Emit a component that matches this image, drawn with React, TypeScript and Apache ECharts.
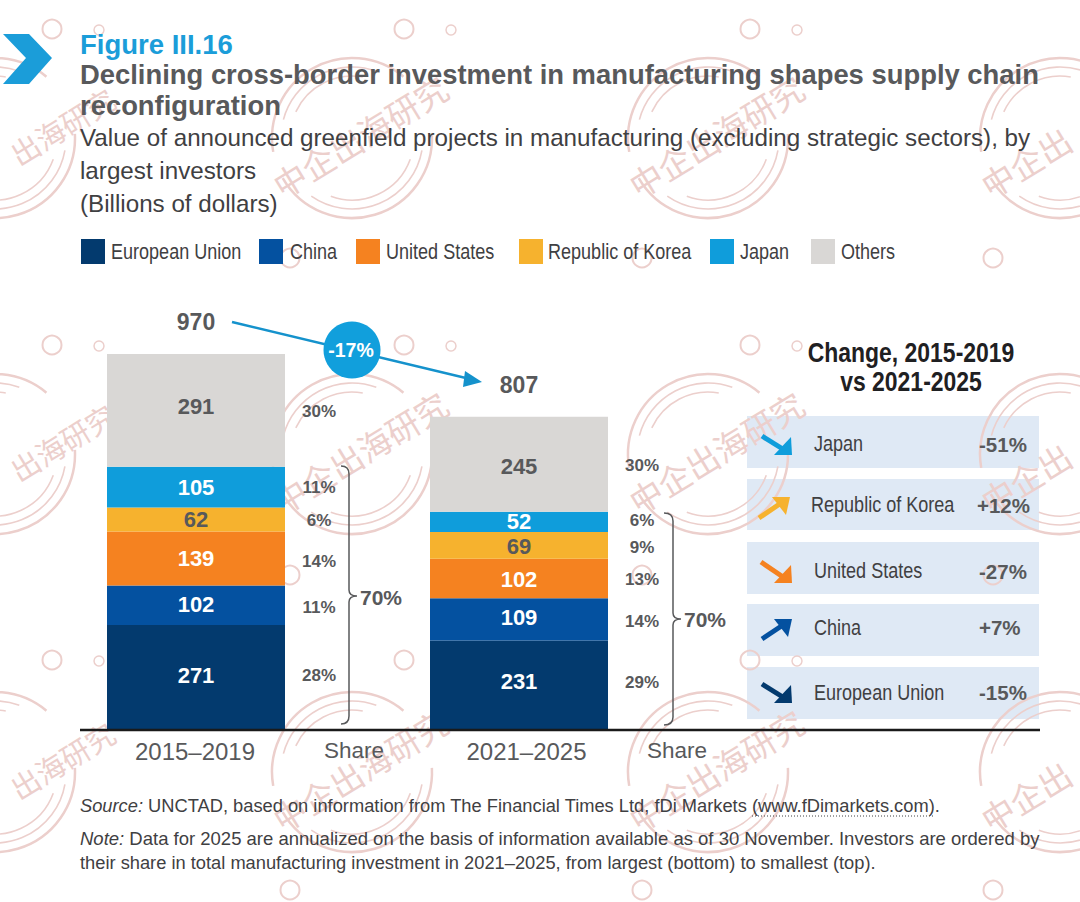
import React, { useEffect, useRef } from "react";
import * as echarts from "echarts";

const categories = ["2015–2019", "Share", "2021–2025", "Share"];
const seriesNames = ["European Union", "China", "United States", "Republic of Korea", "Japan", "Others"];
const euValues = [271, null, 231, null];
const chinaValues = [102, null, 109, null];
const usValues = [139, null, 102, null];
const koreaValues = [62, null, 69, null];
const japanValues = [105, null, 52, null];
const othersValues = [291, null, 245, null];
const totals = [970, null, 807, null];
const sharesFirst = ["28%", "11%", "14%", "6%", "11%", "30%"];
const sharesSecond = ["29%", "14%", "13%", "9%", "6%", "30%"];
const changeNames = ["Japan", "Republic of Korea", "United States", "China", "European Union"];
const changeValues = ["-51%", "+12%", "-27%", "+7%", "-15%"];

const allValues = [euValues, chinaValues, usValues, koreaValues, japanValues, othersValues];
const colors = ["#033a6e", "#0451a0", "#f58220", "#f6b22e", "#0f9ddb", "#d9d7d5"];
const labelColors = ["#fff", "#fff", "#fff", "#58595b", "#fff", "#58595b"];
const GRAY = "#58595b";
const TEXT = "#3f4042";
const SANS = '"Liberation Sans", Arial, sans-serif';
const NARROW_SCALE = 0.82;

// fine vertical nudges of the value labels, by series then column
const barNudge = [[-2, -4], [-1, -2], [0, 1], [0, 1], [0, 0], [-4, 2]];
const shareNudgeA = [-2, 2, 3, 1, 0, 1];
const shareNudgeB = [-3, 2, 1, 2, -1, 1];

echarts.graphic.registerShape("brace1", echarts.graphic.extendPath(
  "M341,466 Q349,466 349,474 L349,590 Q349,596 357,596 Q349,596 349,602 L349,716 Q349,724 341,724", {}));
echarts.graphic.registerShape("brace2", echarts.graphic.extendPath(
  "M664,513 Q673,513 673,521 L673,613 Q673,619 681,619 Q673,619 673,625 L673,717 Q673,725 664,725", {}));

function midpoints(col: number): number[] {
  let acc = 0;
  return allValues.map((vals) => {
    const v = vals[col] as number;
    const m = acc + v / 2;
    acc += v;
    return m;
  });
}

function narrow(text: string, x: number, y: number, fontSize: number, fill: string, opts: any = {}) {
  return {
    type: "text", z: 10, x, y, scaleX: NARROW_SCALE, scaleY: 1,
    style: {
      text, x: 0, y: 0, fill, fontSize, fontFamily: SANS, verticalAlign: "middle",
      align: opts.align || "left", fontWeight: opts.fontWeight || "normal",
    },
  };
}

function watermark(): any[] {
  const out: any[] = [];
  const ink = "#eccfcc";
  const xs = [-5, 352, 708, 1060];
  const ys = [138, 454, 772];
  const d = Math.PI / 180;
  const rings: [number, number, number, number][] = [
    [80, 2.5, 170, 310], [80, 2.5, -3, 150],
    [71, 1.6, 195, 290], [71, 1.6, 10, 125],
    [62, 1.6, 205, 280], [62, 1.6, 20, 110],
  ];
  const dirX = Math.cos(0.55);
  const dirY = -Math.sin(0.55);
  ys.forEach((cy) => xs.forEach((cx, col) => {
    for (const [r, w, a, b] of rings) {
      out.push({
        type: "arc", silent: true, z: 0,
        shape: { cx, cy, r, startAngle: a * d, endAngle: b * d, clockwise: true },
        style: { stroke: ink, lineWidth: w, fill: "none" },
      });
    }
    // stamps at the page's edges show only the part of the stamp text that fits
    const text = col === 0 ? "出海研究" : col === 3 ? "中企出" : "中企出海研究";
    const along = col === 0 ? 20 : col === 3 ? -49.5 : 0;
    out.push({
      type: "text", silent: true, z: 0,
      x: col === 0 ? 62 : cx + 8 + along * dirX, y: cy - 2 + along * dirY, rotation: 0.55,
      style: { text, x: 0, y: 0, fill: ink, fontSize: col === 0 ? 29 : 33, fontFamily: '"Noto Sans CJK SC"', align: "center", verticalAlign: "middle" },
    });
  }));
  const small: [number, number][] = [];
  [52, 404, 750].forEach((x) => [29, 345, 660].forEach((y) => small.push([x, y])));
  small.forEach(([x, y]) => {
    out.push({ type: "circle", silent: true, z: 0, shape: { cx: x, cy: y, r: 9.5 }, style: { stroke: ink, lineWidth: 2, fill: "none" } });
    out.push({ type: "circle", silent: true, z: 0, shape: { cx: x + 47, cy: y + 1, r: 5 }, style: { stroke: ink, lineWidth: 1.5, fill: "none" } });
  });
  [290, 642, 993].forEach((x) => [258, 575, 890].forEach((y) => {
    out.push({ type: "circle", silent: true, z: 0, shape: { cx: x, cy: y, r: 9.5 }, style: { stroke: ink, lineWidth: 2, fill: "none" } });
  }));
  return out;
}

function changePanel(): any[] {
  const out: any[] = [];
  const arrowColors = [colors[4], colors[3], colors[2], colors[1], colors[0]];
  // tail x, tail y, tip x, tip y
  const arrows = [
    [762, 436, 792, 455], [759, 518, 790, 497], [761, 562, 792, 583], [762, 639, 792, 619], [762, 684, 792, 703],
  ];
  const labelX = [814, 811, 814, 814, 814];
  const labelY = [443, 504, 570, 627, 692];
  const pctX = [979, 977, 979, 979, 979];
  const pctY = [444, 505, 571, 627, 692];
  arrows.forEach(([x0, y0, x1, y1], i) => {
    const sign = y1 > y0 ? -1 : 1;
    out.push({ type: "line", z: 10, shape: { x1: x0, y1: y0, x2: x1 - 6, y2: y1 + sign * 4 }, style: { stroke: arrowColors[i], lineWidth: 5 } });
    out.push({
      type: "polygon", z: 10,
      shape: { points: [[x1, y1], [x1 - 18, y1], [x1 - (y1 > y0 ? 1 : 4), y1 + sign * 18]] },
      style: { fill: arrowColors[i] },
    });
    out.push(narrow(changeNames[i], labelX[i], labelY[i], 22, TEXT));
    out.push({ type: "text", z: 10, style: { text: changeValues[i], x: pctX[i], y: pctY[i], fill: GRAY, fontSize: 20.5, fontWeight: "bold", fontFamily: SANS, verticalAlign: "middle" } });
  });
  return out;
}

function panelRects(): any[] {
  const tops = [416, 479, 542, 604, 667];
  const hs = [52, 51, 52, 52, 52];
  return tops.map((t, i) => ({ type: "rect", z: 0, shape: { x: 747, y: t, width: 292, height: hs[i] }, style: { fill: "#dfe9f5" } }));
}

function App() {
  const ref = useRef<HTMLDivElement>(null);
  useEffect(() => {
    document.body.style.margin = "0";
    const chart = echarts.init(ref.current!, undefined, { renderer: "svg" });
    const legendLeft = [81, 259, 356, 519, 710, 811];
    const legendTextX = [111, 290, 386, 548, 740, 841];
    const midsA = midpoints(0);
    const midsB = midpoints(2);

    const footer = [
      { y: 805, size: 18.3, text: "{i|Source:} UNCTAD, based on information from The Financial Times Ltd, fDi Markets (www.fDimarkets.com)." },
      { y: 838, size: 18.5, text: "{i|Note:} Data for 2025 are annualized on the basis of information available as of 30 November. Investors are ordered by" },
      { y: 862, size: 18.3, text: "their share in total manufacturing investment in 2021–2025, from largest (bottom) to smallest (top)." },
    ];
    const heading = (text: string, top: number, fontSize: number, color: string, fontWeight: string) => ({
      text, left: 80, top, padding: 0, textStyle: { color, fontSize, fontWeight, fontFamily: SANS },
    });

    const option: any = {
      animation: false,
      backgroundColor: "#fff",
      title: [
        heading("Figure III.16", 30, 27.5, "#1b9dd9", "bold"),
        heading("Declining cross-border investment in manufacturing shapes supply chain", 61, 27.4, GRAY, "bold"),
        heading("reconfiguration", 92, 27.4, GRAY, "bold"),
        heading("Value of announced greenfield projects in manufacturing (excluding strategic sectors), by", 125, 24.2, TEXT, "normal"),
        heading("largest investors", 158, 24.2, TEXT, "normal"),
        heading("(Billions of dollars)", 191, 24.2, TEXT, "normal"),
      ],
      legend: seriesNames.map((n, i) => ({
        data: [n], left: legendLeft[i], top: 239, padding: 0,
        itemWidth: 24, itemHeight: 25, icon: "rect", selectedMode: false,
        formatter: () => "",
      })),
      grid: { left: 115.25, width: 646, top: 342.4, bottom: 172, containLabel: false },
      xAxis: {
        type: "category",
        data: categories.map((c, i) => ({
          value: c,
          textStyle: [
            { padding: [0, 2, 0, 0], fontSize: 24 },
            { padding: [0, 7, 0, 0], fontSize: 22.5 },
            { padding: [0, 0, 0, 15], fontSize: 24 },
            { padding: [0, 7, 0, 0], fontSize: 22.5 },
          ][i],
        })),
        axisLine: { show: false },
        axisTick: { show: false },
        axisLabel: { color: GRAY, fontFamily: SANS, fontSize: 24, margin: 9, interval: 0 },
        splitLine: { show: false },
      },
      yAxis: { type: "value", min: 0, max: 1000, show: false },
      series: [
        ...seriesNames.map((name, i) => ({
          type: "bar", name, stack: "total", barWidth: 178, z: 3, clip: false,
          data: allValues[i].map((v, k) => (v == null ? null : { value: v, label: { offset: [0, barNudge[i][k / 2]] } })),
          itemStyle: { color: colors[i] },
          label: { show: true, position: "inside", color: labelColors[i], fontSize: 22, fontWeight: "bold", fontFamily: SANS },
        })),
        {
          type: "scatter", name: "Total", symbolSize: 0, z: 4, itemStyle: { opacity: 1 },
          data: totals.map((t, i) => (t == null ? null : [i, t])).filter(Boolean),
          label: { show: true, position: "inside", offset: [0, -32], color: GRAY, fontSize: 23, fontWeight: "bold", fontFamily: SANS, formatter: (p: any) => String(p.value[1]) },
        },
        {
          type: "scatter", name: "Share first", symbolSize: 0, z: 4, itemStyle: { opacity: 1 },
          data: midsA.map((m, i) => ({ value: [1, m], label: { offset: [-38.5, shareNudgeA[i]] } })),
          label: { show: true, position: "inside", color: GRAY, fontSize: 17, fontWeight: "bold", fontFamily: SANS, formatter: (p: any) => sharesFirst[p.dataIndex] },
        },
        {
          type: "scatter", name: "Share second", symbolSize: 0, z: 4, itemStyle: { opacity: 1 },
          data: midsB.map((m, i) => ({ value: [3, m], label: { offset: [-38.5, shareNudgeB[i]] } })),
          label: { show: true, position: "inside", color: GRAY, fontSize: 17, fontWeight: "bold", fontFamily: SANS, formatter: (p: any) => sharesSecond[p.dataIndex] },
        },
      ],
      graphic: [
        ...panelRects(),
        ...watermark(),
        ...seriesNames.map((n, i) => narrow(n, legendTextX[i], 251, 22, TEXT)),
        { type: "polygon", z: 10, shape: { points: [[3, 34], [29, 34], [52, 58], [29, 84], [3, 84], [26, 58]] }, style: { fill: "#1b9dd9" } },
        { type: "line", z: 10, shape: { x1: 80, y1: 730, x2: 1040, y2: 730 }, style: { stroke: "#1a1a1a", lineWidth: 2.5 } },
        { type: "line", z: 10, shape: { x1: 232, y1: 322, x2: 470, y2: 379 }, style: { stroke: "#1592cc", lineWidth: 2.5 } },
        { type: "polygon", z: 10, shape: { points: [[482, 382], [465, 371], [463, 387]] }, style: { fill: "#1592cc" } },
        { type: "circle", z: 10, shape: { cx: 352, cy: 350, r: 28.5 }, style: { fill: "#119fdc" } },
        { type: "text", z: 11, style: { text: "-17%", x: 351, y: 350, fill: "#fff", fontSize: 19.5, fontWeight: "bold", fontFamily: SANS, align: "center", verticalAlign: "middle" } },
        { type: "brace1", z: 10, style: { stroke: GRAY, lineWidth: 1.5, fill: "none" } },
        { type: "brace2", z: 10, style: { stroke: GRAY, lineWidth: 1.5, fill: "none" } },
        { type: "text", z: 10, style: { text: "70%", x: 381, y: 597, fill: GRAY, fontSize: 21, fontWeight: "bold", fontFamily: SANS, align: "center", verticalAlign: "middle" } },
        { type: "text", z: 10, style: { text: "70%", x: 705, y: 619, fill: GRAY, fontSize: 21, fontWeight: "bold", fontFamily: SANS, align: "center", verticalAlign: "middle" } },
        narrow("Change, 2015-2019", 911, 352, 28, "#1f2022", { align: "center", fontWeight: "bold" }),
        narrow("vs 2021-2025", 911, 381, 28, "#1f2022", { align: "center", fontWeight: "bold" }),
        ...changePanel(),
        ...footer.map((f) => ({
          type: "text", z: 10,
          style: {
            text: f.text, x: 80, y: f.y, fill: TEXT, fontSize: f.size, fontFamily: SANS, verticalAlign: "middle",
            rich: { i: { fontStyle: "italic", fontSize: f.size, fontFamily: SANS, fill: TEXT } },
          },
        })),
        { type: "line", z: 10, shape: { x1: 752, y1: 816, x2: 933, y2: 816 }, style: { stroke: TEXT, lineWidth: 1, lineDash: [1, 2] } },
      ],
    };
    chart.setOption(option);
    return () => chart.dispose();
  }, []);
  return <div ref={ref} style={{ position: "absolute", left: 0, top: 0, width: 1080, height: 902 }} />;
}

export default App;
